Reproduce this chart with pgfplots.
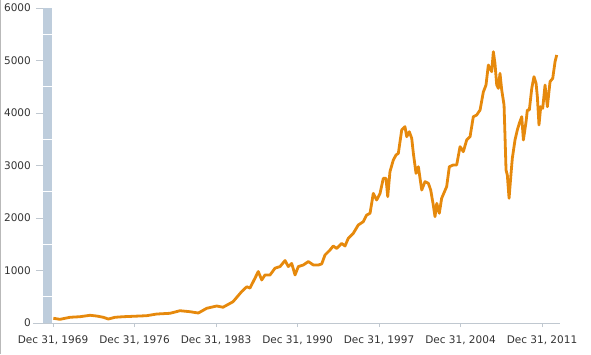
\documentclass[border=0pt]{standalone}
\usepackage{pgfplots}
\pgfplotsset{compat=1.18}
\usepackage{fontspec}
\setmainfont{DejaVu Sans}
\definecolor{lineor}{RGB}{230,137,12}
\definecolor{band}{RGB}{190,205,220}
\definecolor{gridc}{RGB}{228,228,228}
\definecolor{tickc}{RGB}{192,200,208}
\definecolor{txt}{RGB}{51,51,51}
\pgfplotstableread{
x y
1970.03 90
1970.60 70
1971.46 109
1972.32 120
1973.18 147
1973.75 133
1974.32 109
1974.75 76
1975.33 109
1976.04 120
1976.90 128
1978.05 139
1978.91 171
1980.05 185
1980.91 234
1981.77 215
1982.48 190
1983.20 280
1984.06 324
1984.60 300
1985.46 405
1986.21 600
1986.64 690
1986.92 665
1987.35 855
1987.63 980
1987.93 820
1988.21 915
1988.64 915
1989.07 1045
1989.50 1075
1989.93 1190
1990.21 1075
1990.50 1135
1990.79 915
1991.07 1075
1991.50 1105
1991.93 1170
1992.36 1105
1992.79 1105
1993.08 1125
1993.36 1295
1993.79 1390
1994.07 1467
1994.37 1420
1994.80 1515
1995.08 1467
1995.36 1613
1995.79 1708
1996.22 1867
1996.65 1930
1996.94 2057
1997.23 2090
1997.51 2470
1997.80 2343
1998.09 2470
1998.37 2756
1998.60 2756
1998.75 2406
1998.94 2882
1999.23 3105
1999.46 3200
1999.66 3232
1999.95 3676
2000.23 3740
2000.38 3549
2000.60 3644
2000.81 3518
2000.95 3232
2001.18 2850
2001.38 2977
2001.67 2533
2001.95 2692
2002.24 2660
2002.44 2533
2002.66 2248
2002.81 2025
2002.96 2280
2003.18 2090
2003.38 2375
2003.81 2597
2004.04 2977
2004.38 3010
2004.67 3010
2004.96 3359
2005.24 3263
2005.53 3486
2005.82 3549
2006.10 3930
2006.39 3962
2006.68 4057
2006.96 4400
2007.19 4533
2007.39 4914
2007.68 4787
2007.82 5168
2007.96 4946
2008.11 4533
2008.25 4470
2008.39 4756
2008.54 4438
2008.74 4152
2008.91 2914
2009.02 2819
2009.17 2375
2009.34 2850
2009.45 3137
2009.68 3486
2009.88 3676
2010.05 3803
2010.26 3930
2010.40 3486
2010.63 3834
2010.74 4057
2010.91 4057
2011.12 4470
2011.31 4692
2011.49 4565
2011.60 4311
2011.74 3771
2011.89 4120
2012.06 4089
2012.26 4533
2012.46 4120
2012.69 4597
2012.92 4660
2013.12 4977
2013.26 5105
}\datatable
\begin{document}
\begin{tikzpicture}
\useasboundingbox (-52pt,-31pt) rectangle (539pt,323pt);
\draw[gray!55, line width=1pt] (-51.5pt,-31pt) -- (-51.5pt,323pt);
\begin{axis}[
  at={(0,0)}, anchor=south west,
  scale only axis, width=508pt, height=315pt,
  xmin=1969.914, xmax=2013.545,
  ymin=0, ymax=6000,
  clip=false,
  axis y line=none,
  axis x line*=bottom,
  x axis line style={draw=tickc, line width=0.8pt, -},
  xtick={1970,1977,1984,1991,1998,2005,2012},
  xticklabels={{Dec 31, 1969},{Dec 31, 1976},{Dec 31, 1983},{Dec 31, 1990},{Dec 31, 1997},{Dec 31, 2004},{Dec 31, 2011}},
  xtick align=outside,
  x tick style={draw=tickc, line width=0.8pt},
  major tick length=4pt,
  xticklabel style={anchor=north, inner sep=0pt, yshift=-9pt, text=txt, font=\fontsize{10.5}{12}\selectfont},
  ymajorgrids,
  grid style={draw=gridc, line width=0.8pt},
  ytick={0,1000,2000,3000,4000,5000,6000},
  axis on top=false,
]
% left band
\fill[band] ([xshift=-9pt]rel axis cs:0,0) rectangle (rel axis cs:0,1);
\pgfplotsinvokeforeach{500,1500,2500,3500,4500,5500}{
  \draw[white, line width=1pt] ([xshift=-9pt]axis cs:1969.914,#1) -- (axis cs:1969.914,#1);
}
\pgfplotsinvokeforeach{0,1000,2000,3000,4000,5000,6000}{
  \draw[tickc, line width=0.8pt] ([xshift=-16pt]axis cs:1969.914,#1) -- ([xshift=-9pt]axis cs:1969.914,#1);
  \node[anchor=east, inner sep=0pt, text=txt, font=\fontsize{10.5}{12}\selectfont] at ([xshift=-21pt]axis cs:1969.914,#1) {#1};
}
\draw[tickc, line width=0.8pt] ([xshift=-19pt]rel axis cs:0,0) -- (rel axis cs:0,0);
\addplot[lineor, line width=2.8pt, line join=round, no markers] table[x=x,y=y] {\datatable};
\end{axis}
\end{tikzpicture}
\end{document}
